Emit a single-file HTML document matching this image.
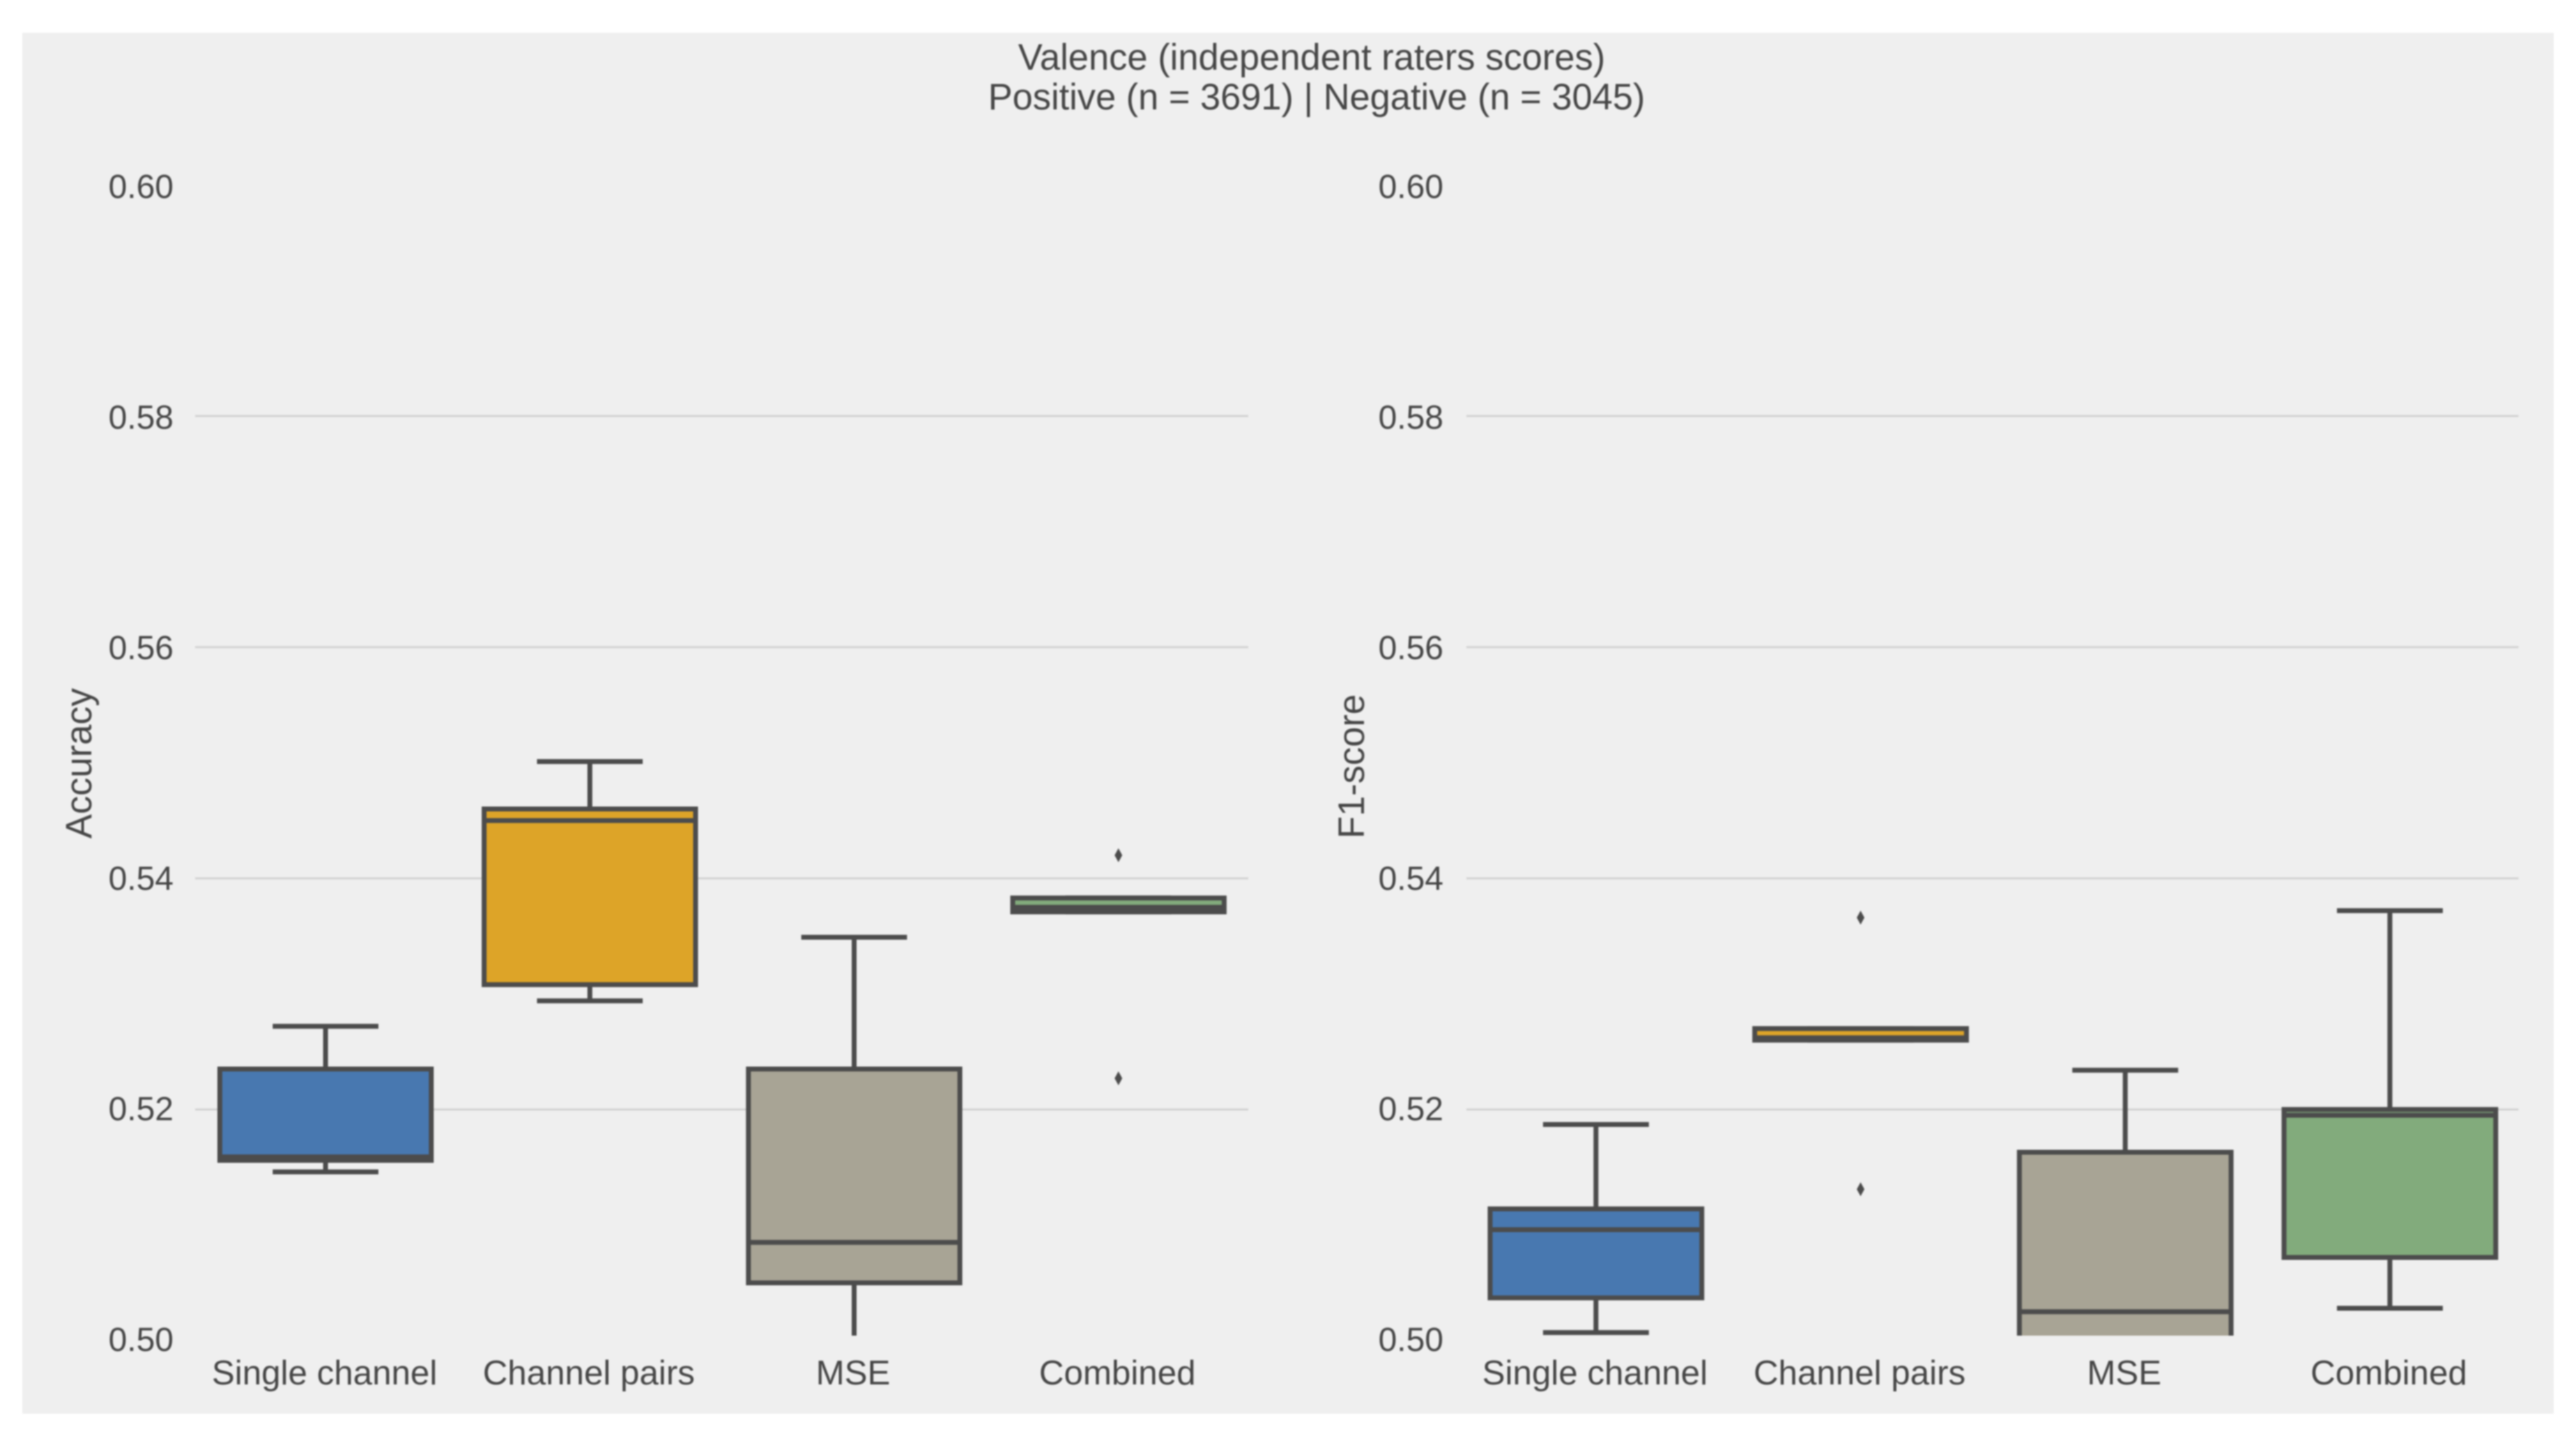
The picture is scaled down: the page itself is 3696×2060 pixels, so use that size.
<!DOCTYPE html>
<html lang="en">
<head>
<meta charset="utf-8">
<title>Valence (independent raters scores)</title>
<style>
html,body{margin:0;padding:0;background:#fff;width:3696px;height:2060px;overflow:hidden}
svg{display:block;filter:blur(1.1px)}
text{font-family:"Liberation Sans",sans-serif;fill:#464646}
</style>
</head>
<body>
<svg id="chart" xmlns="http://www.w3.org/2000/svg" width="3696" height="2060" viewBox="0 0 3696 2060">
  <rect x="0" y="0" width="3696" height="2060" fill="#ffffff"/>
  <rect x="32" y="47" width="3632" height="1981" fill="#efefef"/>
  <text x="1882" y="100" font-size="52.5" text-anchor="middle">Valence (independent raters scores)</text>
  <text x="1889" y="157" font-size="52.4" text-anchor="middle">Positive (n = 3691) | Negative (n = 3045)</text>
  <text transform="translate(131 1203) rotate(-90)" font-size="52.5">Accuracy</text>
  <text transform="translate(1957 1203) rotate(-90)" font-size="52.5">F1-score</text>
  <defs>
    <clipPath id="clip-left"><rect x="270" y="265" width="1530" height="1651"/></clipPath>
    <clipPath id="clip-right"><rect x="2095" y="265" width="1530" height="1651"/></clipPath>
  </defs>
  <g id="panel-left"></g>
  <g id="panel-right"></g>
</svg>
<script>
const categories = ["Single channel", "Channel pairs", "MSE", "Combined"];
const boxColors = ["#4878b0", "#dda428", "#a8a495", "#82ab7c"];
const tickValues = [0.50, 0.52, 0.54, 0.56, 0.58, 0.60];
const tickLabels = ["0.50", "0.52", "0.54", "0.56", "0.58", "0.60"];

const accuracyWhiskerLow  = [0.5146, 0.5294, 0.4990, 0.5371];
const accuracyQ1          = [0.5156, 0.5308, 0.5050, 0.5371];
const accuracyMedian      = [0.5159, 0.5450, 0.5085, 0.5375];
const accuracyQ3          = [0.5235, 0.5460, 0.5235, 0.5383];
const accuracyWhiskerHigh = [0.5272, 0.5501, 0.5349, 0.5383];
const accuracyOutliers    = [[], [], [], [0.5420, 0.5227]];

const f1WhiskerLow  = [0.5007, 0.5260, 0.4950, 0.5028];
const f1Q1          = [0.5037, 0.5260, 0.4990, 0.5072];
const f1Median      = [0.5096, 0.5262, 0.5025, 0.5195];
const f1Q3          = [0.5114, 0.5270, 0.5163, 0.5200];
const f1WhiskerHigh = [0.5187, 0.5270, 0.5234, 0.5372];
const f1Outliers    = [[], [0.5366, 0.5131], [], []];

const SVG_NS = "http://www.w3.org/2000/svg";
const EDGE = "#4c4c4c";
const LINE = 7;
const Y_MIN = 0.5004, Y_MAX = 0.60;

function yScale(v) { return 1260 + (0.54 - v) * 16580; }
function yLabelBaseline(v) { return 1938 - (v - 0.50) * 16540; }

function mk(parent, tag, attrs) {
  const el = document.createElementNS(SVG_NS, tag);
  for (const k in attrs) el.setAttribute(k, attrs[k]);
  parent.appendChild(el);
  return el;
}

function drawPanel(root, cfg) {
  const band = cfg.band;
  const xCenter = i => cfg.x0 + band * (i + 0.5);
  const boxW = band * 0.8;
  const capW = band * 0.4;

  tickValues.forEach((v, t) => {
    const lab = mk(root, "text", { x: cfg.labelRight, y: yLabelBaseline(v), "font-size": 48, "text-anchor": "end" });
    lab.textContent = tickLabels[t];
    
    
    if (v > Y_MIN && v < Y_MAX) {
      const g = mk(root, "line", { x1: cfg.gridL, x2: cfg.gridR, y1: yScale(v), y2: yScale(v), stroke: "#d3d3d3", "stroke-width": 3 });
      
      
    }
  });

  const marks = mk(root, "g", { "clip-path": "url(#" + cfg.clip + ")" });
  
  

  categories.forEach((cat, i) => {
    const cx = xCenter(i);

    const wh = mk(marks, "line", { x1: cx, x2: cx, y1: yScale(cfg.high[i]), y2: yScale(cfg.q3[i]), stroke: EDGE, "stroke-width": LINE });
    
    

    const wl = mk(marks, "line", { x1: cx, x2: cx, y1: yScale(cfg.q1[i]), y2: yScale(cfg.low[i]), stroke: EDGE, "stroke-width": LINE });
    
    

    const ch = mk(marks, "line", { x1: cx - capW / 2, x2: cx + capW / 2, y1: yScale(cfg.high[i]), y2: yScale(cfg.high[i]), stroke: EDGE, "stroke-width": LINE });
    
    

    const cl = mk(marks, "line", { x1: cx - capW / 2, x2: cx + capW / 2, y1: yScale(cfg.low[i]), y2: yScale(cfg.low[i]), stroke: EDGE, "stroke-width": LINE });
    
    

    const box = mk(marks, "rect", {
      x: cx - boxW / 2, width: boxW,
      y: yScale(cfg.q3[i]), height: yScale(cfg.q1[i]) - yScale(cfg.q3[i]),
      fill: boxColors[i], stroke: EDGE, "stroke-width": LINE
    });
    
    

    const med = mk(marks, "line", { x1: cx - boxW / 2, x2: cx + boxW / 2, y1: yScale(cfg.median[i]), y2: yScale(cfg.median[i]), stroke: EDGE, "stroke-width": LINE });
    
    

    cfg.outliers[i].forEach(v => {
      const y = yScale(v);
      const p = mk(marks, "polygon", { points: cx + "," + (y - 10) + " " + (cx + 5.5) + "," + y + " " + cx + "," + (y + 10) + " " + (cx - 5.5) + "," + y, fill: EDGE });
      
      
    });

    const lab = mk(root, "text", { x: cx - 1.5, y: 1986, "font-size": 49.3, "text-anchor": "middle" });
    lab.textContent = cat;
    
    
  });
}

drawPanel(document.getElementById("panel-left"), {
  x0: 277.5, band: 379.2, gridL: 280, gridR: 1791, labelRight: 249, clip: "clip-left",
  low: accuracyWhiskerLow, q1: accuracyQ1, median: accuracyMedian, q3: accuracyQ3, high: accuracyWhiskerHigh, outliers: accuracyOutliers
});
drawPanel(document.getElementById("panel-right"), {
  x0: 2100, band: 379.7, gridL: 2104, gridR: 3613.5, labelRight: 2071, clip: "clip-right",
  low: f1WhiskerLow, q1: f1Q1, median: f1Median, q3: f1Q3, high: f1WhiskerHigh, outliers: f1Outliers
});
</script>
</body>
</html>
